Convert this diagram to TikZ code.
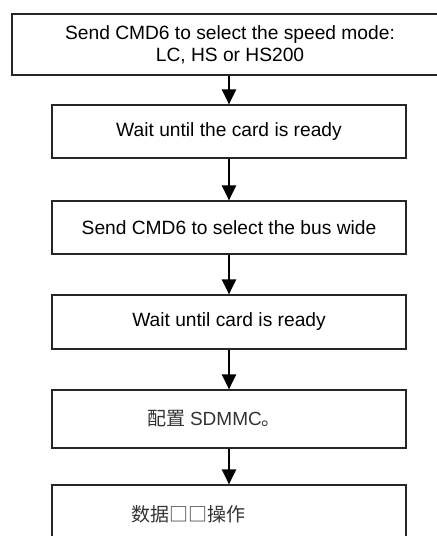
\documentclass[tikz,border=0pt]{standalone}
\usepackage{fontspec}
\setmainfont{Liberation Sans}
\newfontfamily\cjk{Noto Sans CJK SC}
\usetikzlibrary{arrows.meta}
\usetikzlibrary{positioning}

\begin{document}
\begin{tikzpicture}[x=0.5pt, y=-0.5pt,
        stepbox/.style={draw=black!85, line width=0.6pt, minimum width=177pt, inner sep=0pt, font=\fontsize{9.6}{11}\selectfont},
        flow/.style={-{Triangle[length=7.5pt, width=7pt]}, line width=1.1pt},
        cjklbl/.style={font=\fontsize{9.5}{11}\selectfont\cjk, text=black!80, inner sep=0pt, anchor=west}]
    \useasboundingbox (0, 0) rectangle (437, 536);
    \node[stepbox, minimum width=218pt, minimum height=30.5pt, align=center](speed) at (230, 44.5){Send CMD6 to select the speed mode:\\LC, HS or HS200};
    \node[stepbox, minimum height=26.5pt](wait1) at (229, 131.5){Wait until the card is ready};
    \node[stepbox, minimum height=26.5pt](bus) at (229, 227.5){Send CMD6 to select the bus wide};
    \node[stepbox, minimum height=27pt](wait2) at (229, 322){Wait until card is ready};
    \node[stepbox, minimum height=29pt](cfg) at (229, 419){};
    \node[stepbox, minimum height=29pt](data) at (229, 514){};
    \node[cjklbl](cfglbl) at ([xshift=48pt]cfg.west){配置 {\rmfamily SDMMC}。};
    \node[cjklbl](datalbl) at ([xshift=40pt]data.west){数据□□操作};
    % arrows between the steps
    \draw[flow](speed.south -| wait1.north)--(wait1.north);
    \draw[flow](wait1.south)--(bus.north);
    \draw[flow](bus.south)--(wait2.north);
    \draw[flow](wait2.south)--(cfg.north);
    \draw[flow](cfg.south)--(data.north);
\end{tikzpicture}
\end{document}
